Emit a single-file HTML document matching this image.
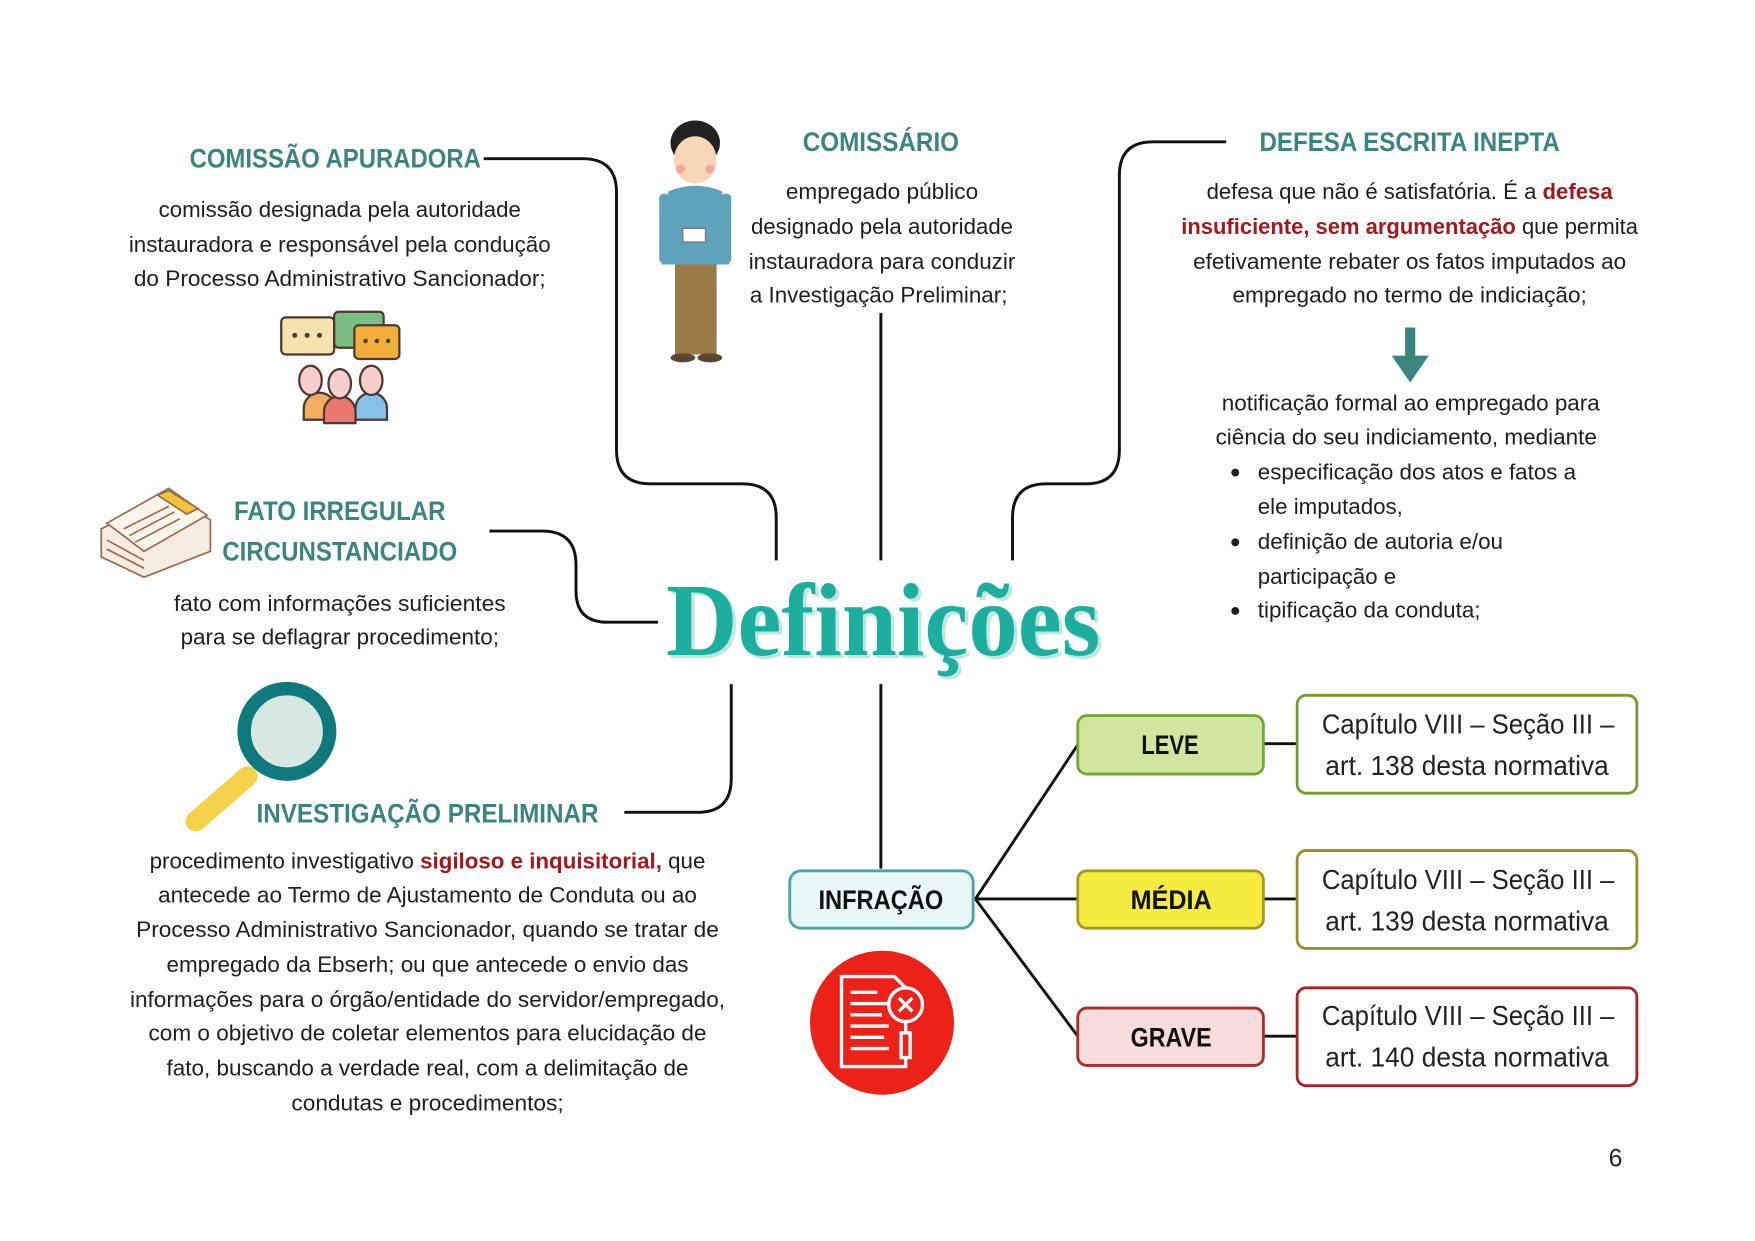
<!DOCTYPE html>
<html><head><meta charset="utf-8"><style>
html,body{margin:0;padding:0;background:#fff;}
svg{display:block;}
text{font-family:"Liberation Sans Narrow","Liberation Sans",sans-serif;}
.b{font-size:20px;fill:#1e1e1e;}
.t{font-size:24px;font-weight:bold;fill:#3b8581;}
.r{fill:#a3191c;font-weight:bold;}
.bx{font-size:25px;fill:#222;}
.bt{font-size:24px;font-weight:bold;fill:#111;}
</style></head><body>
<svg width="1755" height="1241" viewBox="0 0 1560 1103" xmlns="http://www.w3.org/2000/svg">
<rect width="1560" height="1103" fill="#fff"/>
<g fill="none" stroke="#111" stroke-width="2.6">
<path d="M430 141 H518 Q548 141 548 171 V400 Q548 430 578 430 H660 Q690 430 690 460 V498"/>
<path d="M783 278 V498"/>
<path d="M1090 126 H1025 Q995 126 995 156 V400 Q995 430 965 430 H930 Q900 430 900 460 V498"/>
<path d="M435 472 H482 Q512 472 512 502 V525 Q512 553 540 553 H585"/>
<path d="M650 608 V692 Q650 722 620 722 H555"/>
<path d="M783 608 V772"/>
<path d="M867 799 L958 662 M867 799 H958 M867 799 L958 921"/>
<path d="M1123 661 H1153 M1123 799 H1153 M1123 921 H1153"/>
</g>
<!-- titles -->
<text class="t" x="298" y="149" text-anchor="middle" textLength="259" lengthAdjust="spacingAndGlyphs">COMISSÃO APURADORA</text>
<text class="t" x="783" y="134" text-anchor="middle" textLength="139" lengthAdjust="spacingAndGlyphs">COMISSÁRIO</text>
<text class="t" x="1253" y="134" text-anchor="middle" textLength="267" lengthAdjust="spacingAndGlyphs">DEFESA ESCRITA INEPTA</text>
<text class="t" x="302" y="462" text-anchor="middle" textLength="188" lengthAdjust="spacingAndGlyphs">FATO IRREGULAR</text>
<text class="t" x="302" y="498" text-anchor="middle" textLength="209" lengthAdjust="spacingAndGlyphs">CIRCUNSTANCIADO</text>
<text class="t" x="380" y="731" text-anchor="middle" textLength="304" lengthAdjust="spacingAndGlyphs">INVESTIGAÇÃO PRELIMINAR</text>
<!-- comissao text -->
<g class="b" text-anchor="middle">
<text x="302" y="193" textLength="322" lengthAdjust="spacingAndGlyphs">comissão designada pela autoridade</text>
<text x="302" y="224" textLength="375" lengthAdjust="spacingAndGlyphs">instauradora e responsável pela condução</text>
<text x="302" y="254" textLength="366" lengthAdjust="spacingAndGlyphs">do Processo Administrativo Sancionador;</text>
<text x="784" y="177" textLength="171" lengthAdjust="spacingAndGlyphs">empregado público</text>
<text x="784" y="208" textLength="233" lengthAdjust="spacingAndGlyphs">designado pela autoridade</text>
<text x="784" y="239" textLength="237" lengthAdjust="spacingAndGlyphs">instauradora para conduzir</text>
<text x="781" y="269" textLength="229" lengthAdjust="spacingAndGlyphs">a Investigação Preliminar;</text>
<text x="1253" y="177" textLength="361" lengthAdjust="spacingAndGlyphs">defesa que não é satisfatória. É a <tspan class="r">defesa</tspan></text>
<text x="1253" y="208" textLength="406" lengthAdjust="spacingAndGlyphs"><tspan class="r">insuficiente, sem argumentação</tspan> que permita</text>
<text x="1253" y="239" textLength="385" lengthAdjust="spacingAndGlyphs">efetivamente rebater os fatos imputados ao</text>
<text x="1253" y="269" textLength="315" lengthAdjust="spacingAndGlyphs">empregado no termo de indiciação;</text>
<text x="1254" y="365" textLength="336" lengthAdjust="spacingAndGlyphs">notificação formal ao empregado para</text>
<text x="1250" y="395" textLength="339" lengthAdjust="spacingAndGlyphs">ciência do seu indiciamento, mediante</text>
<text x="302" y="543" textLength="295" lengthAdjust="spacingAndGlyphs">fato com informações suficientes</text>
<text x="302" y="573" textLength="283" lengthAdjust="spacingAndGlyphs">para se deflagrar procedimento;</text>
<text x="380" y="772" textLength="494" lengthAdjust="spacingAndGlyphs">procedimento investigativo <tspan class="r">sigiloso e inquisitorial,</tspan> que</text>
<text x="380" y="802" textLength="479" lengthAdjust="spacingAndGlyphs">antecede ao Termo de Ajustamento de Conduta ou ao</text>
<text x="380" y="833" textLength="518" lengthAdjust="spacingAndGlyphs">Processo Administrativo Sancionador, quando se tratar de</text>
<text x="380" y="864" textLength="464" lengthAdjust="spacingAndGlyphs">empregado da Ebserh; ou que antecede o envio das</text>
<text x="380" y="895" textLength="529" lengthAdjust="spacingAndGlyphs">informações para o órgão/entidade do servidor/empregado,</text>
<text x="380" y="925" textLength="496" lengthAdjust="spacingAndGlyphs">com o objetivo de coletar elementos para elucidação de</text>
<text x="380" y="956" textLength="464" lengthAdjust="spacingAndGlyphs">fato, buscando a verdade real, com a delimitação de</text>
<text x="380" y="987" textLength="242" lengthAdjust="spacingAndGlyphs">condutas e procedimentos;</text>
</g>
<g class="b">
<text x="1118" y="426" textLength="283" lengthAdjust="spacingAndGlyphs">especificação dos atos e fatos a</text>
<text x="1118" y="457" textLength="129" lengthAdjust="spacingAndGlyphs">ele imputados,</text>
<text x="1118" y="488" textLength="218" lengthAdjust="spacingAndGlyphs">definição de autoria e/ou</text>
<text x="1118" y="519" textLength="123" lengthAdjust="spacingAndGlyphs">participação e</text>
<text x="1118" y="549" textLength="198" lengthAdjust="spacingAndGlyphs">tipificação da conduta;</text>
</g>
<g fill="#1e1e1e"><circle cx="1098" cy="420" r="3.5"/><circle cx="1098" cy="482" r="3.5"/><circle cx="1098" cy="543" r="3.5"/></g>
<!-- arrow -->
<path d="M1249 291 H1258 V316 H1270 L1253.5 340 L1237 316 H1249 Z" fill="#3b8581"/>
<!-- Definições -->
<text x="788" y="585" text-anchor="middle" textLength="386" lengthAdjust="spacingAndGlyphs" style="font-family:'Liberation Serif',serif;font-weight:bold;font-size:92px;fill:#bfe7e2">Definições</text>
<text x="785" y="582" text-anchor="middle" textLength="386" lengthAdjust="spacingAndGlyphs" style="font-family:'Liberation Serif',serif;font-weight:bold;font-size:92px;fill:#1caf9f">Definições</text>
<!-- infracao -->
<rect x="702" y="774" width="163" height="51" rx="10" fill="#e9f7f6" stroke="#4aa6a3" stroke-width="2.5"/>
<text class="bt" x="783" y="808" text-anchor="middle" textLength="111" lengthAdjust="spacingAndGlyphs">INFRAÇÃO</text>
<rect x="958" y="636" width="165" height="52" rx="8" fill="#cfe69e" stroke="#78a637" stroke-width="2.5"/>
<text class="bt" x="1040" y="670" text-anchor="middle" textLength="51" lengthAdjust="spacingAndGlyphs">LEVE</text>
<rect x="958" y="774" width="165" height="51" rx="8" fill="#f6ec3f" stroke="#a39a1f" stroke-width="2.5"/>
<text class="bt" x="1041" y="808" text-anchor="middle" textLength="72" lengthAdjust="spacingAndGlyphs">MÉDIA</text>
<rect x="958" y="896" width="165" height="51" rx="8" fill="#f7dcdc" stroke="#b02a2a" stroke-width="2.5"/>
<text class="bt" x="1041" y="930" text-anchor="middle" textLength="72" lengthAdjust="spacingAndGlyphs">GRAVE</text>
<rect x="1153" y="618" width="302" height="87" rx="8" fill="#fff" stroke="#7a9a30" stroke-width="2.5"/>
<rect x="1153" y="756" width="302" height="87" rx="8" fill="#fff" stroke="#978f20" stroke-width="2.5"/>
<rect x="1153" y="878" width="302" height="87" rx="8" fill="#fff" stroke="#b02020" stroke-width="2.5"/>
<g class="bx" text-anchor="middle">
<text x="1305" y="652" textLength="260" lengthAdjust="spacingAndGlyphs">Capítulo VIII – Seção III –</text>
<text x="1304" y="689" textLength="252" lengthAdjust="spacingAndGlyphs">art. 138 desta normativa</text>
<text x="1305" y="790" textLength="260" lengthAdjust="spacingAndGlyphs">Capítulo VIII – Seção III –</text>
<text x="1304" y="827" textLength="252" lengthAdjust="spacingAndGlyphs">art. 139 desta normativa</text>
<text x="1305" y="911" textLength="260" lengthAdjust="spacingAndGlyphs">Capítulo VIII – Seção III –</text>
<text x="1304" y="948" textLength="252" lengthAdjust="spacingAndGlyphs">art. 140 desta normativa</text>
</g>
<text x="1436" y="1037" text-anchor="middle" style="font-size:22px;fill:#222;font-family:'Liberation Sans',sans-serif">6</text>
<!-- red circle icon -->
<circle cx="784" cy="909" r="64" fill="#ec2117"/>
<g fill="none" stroke="#fff" stroke-width="3">
<path d="M748 868 H795 L805 878 V948 H748 Z"/>
<path d="M756 882 H780 M756 892 H790 M756 902 H784 M756 912 H790 M756 922 H786 M756 932 H790"/>
<circle cx="805" cy="893" r="15" fill="#ec2117"/>
<path d="M799 887 L811 899 M811 887 L799 899"/>
<rect x="801" y="918" width="8" height="22" fill="#ec2117"/>
</g>
<!-- magnifier -->
<line x1="220" y1="690" x2="174" y2="730" stroke="#f4d24a" stroke-width="18" stroke-linecap="round"/>
<circle cx="255" cy="650" r="38" fill="#d6e8e1" stroke="#0f7a7e" stroke-width="12"/>
<!-- people/chat icon -->
<g stroke="#4a3a30" stroke-width="2">
<rect x="297" y="277" width="44" height="32" rx="4" fill="#7cbf85"/>
<rect x="250" y="282" width="47" height="33" rx="4" fill="#f6e2ad"/>
<rect x="315" y="289" width="40" height="30" rx="4" fill="#f3ad3a"/>
<path d="M270 363 a14 14 0 0 1 28 0 v10 h-28z" fill="#f2ad60"/>
<path d="M316 363 a14 14 0 0 1 28 0 v10 h-28z" fill="#86c1e8"/>
<ellipse cx="276" cy="338" rx="10" ry="13" fill="#f8cfcc"/>
<ellipse cx="330" cy="338" rx="10" ry="13" fill="#f8cfcc"/>
<path d="M288 366 a14 14 0 0 1 28 0 v10 h-28z" fill="#ea7770"/>
<ellipse cx="302" cy="341" rx="10" ry="13" fill="#f8cfcc"/>
</g>
<g fill="#4a3a30"><circle cx="262" cy="298" r="2.2"/><circle cx="273" cy="298" r="2.2"/><circle cx="284" cy="298" r="2.2"/><circle cx="325" cy="303" r="2"/><circle cx="335" cy="303" r="2"/><circle cx="345" cy="303" r="2"/></g>
<!-- documents icon -->
<g stroke="#9b6a4a" stroke-width="1.5">
<path d="M90 470 L150 440 L187 462 L187 490 L128 513 L90 495 Z" fill="#f6ece2"/>
<path d="M95 465 L150 434 L184 458 L128 490 Z" fill="#fbf4ea"/>
<path d="M140 440 L150 436 L176 452 L166 457 Z" fill="#f3c43a"/>
<path d="M110 470 L150 450 M115 476 L155 455 M120 482 L160 461 M95 480 L128 498 M95 488 L128 505"/>
</g>
<!-- person -->
<g>
<ellipse cx="618" cy="127" rx="22" ry="20" fill="#222"/>
<ellipse cx="618" cy="142" rx="19" ry="21" fill="#f7d7b5"/>
<path d="M598 130 Q618 110 638 130 L638 124 Q618 102 598 124Z" fill="#222"/>
<circle cx="605" cy="150" r="4" fill="#f5a8a0"/><circle cx="631" cy="150" r="4" fill="#f5a8a0"/>
<rect x="600" y="235" width="37" height="80" fill="#9c7a45"/>
<path d="M594 170 Q618 160 642 170 L648 235 L588 235 Z" fill="#5fa2bb"/>
<rect x="586" y="172" width="9" height="62" rx="4" fill="#5fa2bb"/>
<rect x="641" y="172" width="9" height="62" rx="4" fill="#5fa2bb"/>
<rect x="607" y="203" width="20" height="12" fill="#fff" stroke="#777"/>
<ellipse cx="607" cy="318" rx="11" ry="4" fill="#5b4632"/><ellipse cx="631" cy="318" rx="11" ry="4" fill="#5b4632"/>
</g>
</svg>
</body></html>
